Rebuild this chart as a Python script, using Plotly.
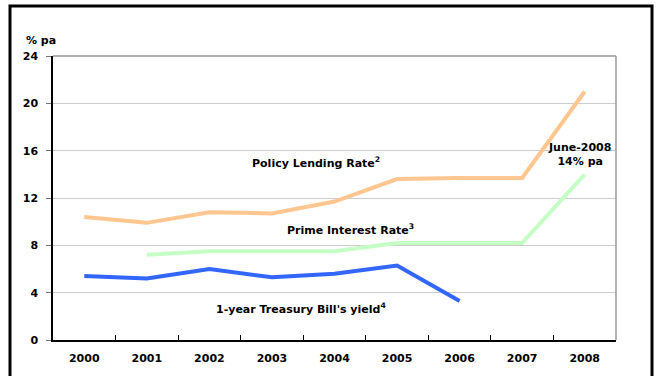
import plotly.graph_objects as go

years = ["2000", "2001", "2002", "2003", "2004", "2005", "2006", "2007", "2008"]
policy_rate = [10.4, 9.9, 10.8, 10.7, 11.7, 13.6, 13.7, 13.7, 21.0]
prime_years = ["2001", "2002", "2003", "2004", "2005", "2006", "2007", "2008"]
prime_rate = [7.2, 7.5, 7.5, 7.5, 8.2, 8.2, 8.2, 14.0]
tbill_years = ["2000", "2001", "2002", "2003", "2004", "2005", "2006"]
tbill_yield = [5.4, 5.2, 6.0, 5.3, 5.6, 6.3, 3.3]
y_ticks = [0, 4, 8, 12, 16, 20, 24]

FONT = "DejaVu Sans, Verdana, sans-serif"

fig = go.Figure()
fig.add_trace(go.Scatter(x=years, y=policy_rate, mode="lines",
                         line=dict(color="#FFC690", width=4), name="Policy Lending Rate"))
fig.add_trace(go.Scatter(x=prime_years, y=prime_rate, mode="lines",
                         line=dict(color="#C6FFC6", width=4), name="Prime Interest Rate"))
fig.add_trace(go.Scatter(x=tbill_years, y=tbill_yield, mode="lines",
                         line=dict(color="#3366FF", width=4), name="1-year Treasury Bill's yield"))

lbl = dict(family=FONT, size=11, color="#000000", weight="bold")
# series labels placed by category index
fig.add_annotation(x=3.70, y=15.0, xref="x", yref="y",
                   text="Policy Lending Rate<sup>2</sup>",
                   showarrow=False, font=lbl)
fig.add_annotation(x=4.26, y=9.3, xref="x", yref="y",
                   text="Prime Interest Rate<sup>3</sup>",
                   showarrow=False, font=lbl)
fig.add_annotation(x=3.46, y=2.7, xref="x", yref="y",
                   text="1-year Treasury Bill's yield<sup>4</sup>",
                   showarrow=False, font=lbl)
fig.add_annotation(x=7.91, y=15.7, xref="x", yref="y",
                   text="June-2008<br>14% pa",
                   showarrow=False, font=lbl)
fig.add_annotation(x=0, xref="paper", xanchor="left", xshift=-29,
                   y=1, yref="paper", yanchor="bottom", yshift=7,
                   text="% pa", showarrow=False, font=lbl)

# Plot frame: gray top and right edges
fig.add_shape(type="line", xref="paper", yref="paper", x0=0, x1=1, y0=1, y1=1,
              line=dict(color="#999999", width=1.5))
fig.add_shape(type="line", xref="paper", yref="paper", x0=1, x1=1, y0=0, y1=1,
              line=dict(color="#999999", width=1.5))
# Outer black border around the figure
fig.add_shape(type="rect", xref="paper", yref="paper",
              x0=-43 / 563, x1=(652 - 53) / 563, y0=(340 - 6) / 284, y1=-0.3,
              line=dict(color="#000000", width=3), layer="above")

tick_font = dict(family=FONT, size=11, color="#000000", weight="bold")

fig.update_layout(
    width=657, height=376,
    margin=dict(l=53, r=41, t=56, b=36),
    paper_bgcolor="white", plot_bgcolor="white",
    showlegend=False,
    font=dict(family=FONT, size=11, color="#000000"),
)
fig.update_xaxes(
    type="category", categoryorder="array", categoryarray=years,
    range=[-0.5, 8.5],
    showline=True, linecolor="#000000", linewidth=1.5,
    ticks="inside", tickson="boundaries", ticklen=5, tickcolor="#000000",
    showgrid=False, tickfont=tick_font,
    ticklabelstandoff=7,
)
fig.update_yaxes(
    range=[0, 24], tickvals=y_ticks,
    showline=True, linecolor="#000000", linewidth=1.5,
    ticks="outside", ticklen=5, tickcolor="#777777",
    showgrid=True, gridcolor="#CCCCCC", gridwidth=1,
    zeroline=False, tickfont=tick_font,
    ticklabelstandoff=6,
)

fig.write_html("out.html")
